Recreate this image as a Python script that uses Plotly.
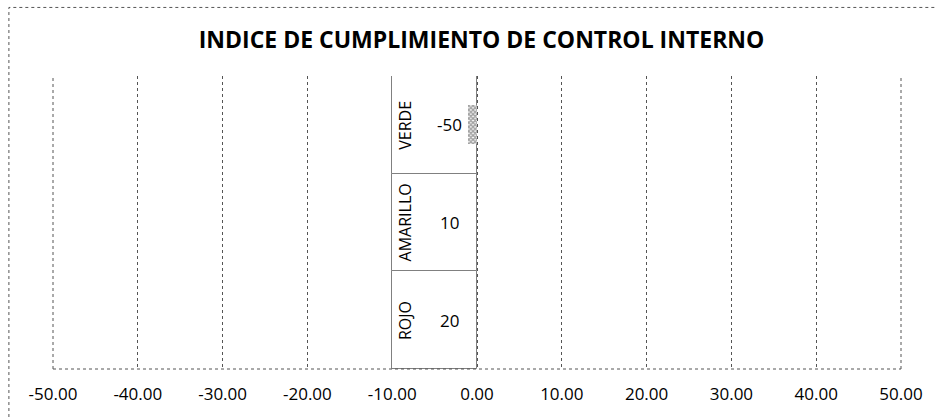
import plotly.graph_objects as go

# Datos (de abajo hacia arriba)
categorias = ["ROJO", "AMARILLO", "VERDE"]
valores = [20, 10, -50]
marca = [None, None, -1.1]  # pequena barra rayada junto a VERDE
ticks = [-50, -40, -30, -20, -10, 0, 10, 20, 30, 40, 50]
titulo = "INDICE DE CUMPLIMIENTO DE CONTROL INTERNO"

FONT = "Open Sans"
GRIS = "#555555"

fig = go.Figure()

# cajas de la tabla (de -10 a 0)
fig.add_trace(
    go.Bar(
        y=categorias,
        x=[10] * len(categorias),
        base=-10,
        orientation="h",
        width=1,
        marker=dict(color="white", line=dict(color="#808080", width=1)),
        hoverinfo="skip",
        showlegend=False,
    )
)

# barra rayada
fig.add_trace(
    go.Bar(
        y=categorias,
        x=marca,
        orientation="h",
        width=0.4,
        marker=dict(
            color="white",
            line=dict(width=0),
            pattern=dict(shape="x", fgcolor="#444444", size=3, solidity=0.7),
        ),
        hoverinfo="skip",
        showlegend=False,
    )
)

# textos de categoria (verticales)
for c in categorias:
    fig.add_annotation(
        x=-8.5, y=c, text=c, textangle=-90, showarrow=False,
        font=dict(family=FONT, size=16, color="black"),
    )

# valores
for c, v in zip(categorias, valores):
    fig.add_annotation(
        x=-3.3, y=c, text=str(v), showarrow=False,
        font=dict(family=FONT, size=17, color="black"),
    )

# borde exterior punteado
fig.add_shape(
    type="rect", xref="paper", yref="paper",
    x0=-0.052, x1=1.06, y0=-0.3, y1=1.234,
    line=dict(color=GRIS, width=1, dash="dot"),
)
# bordes del area de trazado (inferior, izquierdo, derecho)
fig.add_shape(
    type="line", xref="paper", yref="paper",
    x0=0, x1=1, y0=0, y1=0,
    line=dict(color=GRIS, width=1, dash="dot"),
)
for xp in (0, 1):
    fig.add_shape(
        type="line", xref="paper", yref="paper",
        x0=xp, x1=xp, y0=0, y1=1,
        line=dict(color=GRIS, width=1, dash="dot"),
    )

fig.update_layout(
    width=935,
    height=417,
    margin=dict(l=53, r=32, t=76, b=46),
    paper_bgcolor="white",
    plot_bgcolor="white",
    barmode="overlay",
    bargap=0,
    title=dict(
        text="<b>" + titulo + "</b>",
        x=0.515, xanchor="center", y=0.905, yanchor="middle",
        font=dict(family=FONT, size=23, color="black"),
    ),
    xaxis=dict(
        range=[-50, 50],
        tickvals=ticks,
        ticktext=[f"{t:.2f}" for t in ticks],
        showgrid=True,
        gridcolor=GRIS,
        griddash="dot",
        gridwidth=1,
        zeroline=False,
        showline=False,
        ticks="",
        ticklabelstandoff=13,
        tickfont=dict(family=FONT, size=17, color="black"),
    ),
    yaxis=dict(
        categoryorder="array",
        categoryarray=categorias,
        range=[-0.5, 2.5],
        showticklabels=False,
        showgrid=False,
        zeroline=False,
        showline=False,
        ticks="",
    ),
)

fig.write_html(
    "out.html",
    config={"displayModeBar": False},
    post_script="document.body.style.margin='0';",
)
